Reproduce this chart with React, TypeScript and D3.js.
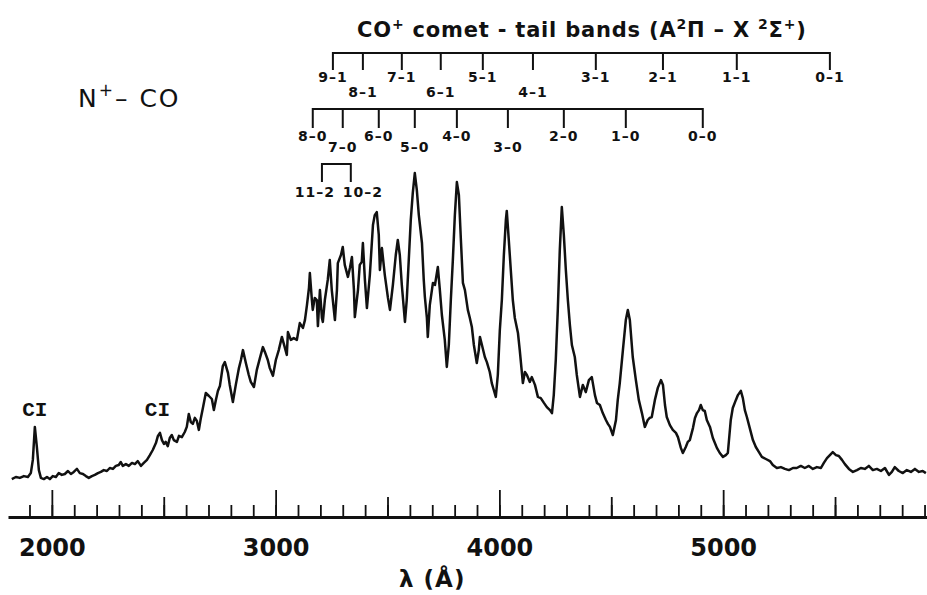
import React, { useEffect, useRef } from "react";
import * as d3 from "d3";

// N+ - CO emission spectrum: [wavelength (Å), relative intensity]
const spectrum: [number, number][] = [
  [1821,0.3],[1839,1.0],[1857,0.7],[1875,1.3],[1893,1.0],[1906,2.3],[1915,6.7],[1924,17.7],[1933,11.0],[1942,3.3],[1951,0.7],[1964,0.3],[1978,1.0],[1991,0.3],
  [2004,1.3],[2018,1.0],[2031,2.3],[2045,1.7],[2058,2.0],[2072,3.0],[2085,2.0],[2098,2.7],[2112,3.7],[2125,2.3],[2139,2.0],[2152,1.3],[2165,0.7],[2179,1.3],
  [2192,1.7],[2206,2.3],[2219,2.7],[2232,3.3],[2246,3.0],[2259,4.0],[2273,3.7],[2286,4.7],[2299,5.0],[2308,6.0],[2317,4.7],[2331,5.3],[2344,4.7],[2358,5.7],
  [2371,5.3],[2384,6.3],[2398,4.7],[2411,5.7],[2425,6.7],[2438,8.3],[2451,10.0],[2465,12.3],[2474,14.7],[2483,15.7],[2492,13.3],[2501,12.0],[2509,12.7],
  [2518,11.3],[2527,14.0],[2536,15.0],[2545,13.3],[2559,12.7],[2568,14.7],[2581,14.3],[2594,16.0],[2603,17.7],[2612,22.0],[2621,19.3],[2630,18.7],[2639,20.7],
  [2648,19.7],[2657,16.7],[2666,20.7],[2675,24.0],[2688,29.0],[2702,28.0],[2715,27.0],[2724,23.3],[2733,26.7],[2742,29.7],[2751,31.3],[2764,38.0],[2773,39.3],
  [2787,35.7],[2795,31.7],[2809,26.0],[2822,31.7],[2836,37.3],[2845,40.0],[2854,43.3],[2867,39.0],[2880,35.0],[2889,32.7],[2903,31.0],[2916,36.7],[2930,40.7],
  [2943,44.3],[2952,42.7],[2965,40.0],[2974,37.3],[2988,34.7],[3001,40.0],[3014,43.3],[3028,47.7],[3037,45.3],[3050,41.7],[3055,49.3],[3068,46.7],[3081,47.3],
  [3095,46.7],[3108,52.3],[3122,50.7],[3131,53.3],[3140,58.3],[3149,64.0],[3153,69.0],[3162,60.0],[3166,56.7],[3175,60.7],[3184,60.0],[3189,51.3],[3198,63.3],
  [3207,54.0],[3211,52.7],[3220,60.0],[3233,66.7],[3242,73.3],[3251,63.3],[3265,53.3],[3274,63.3],[3278,72.3],[3292,75.0],[3300,77.7],[3309,71.7],[3323,67.7],
  [3332,70.7],[3341,74.3],[3350,63.3],[3354,54.3],[3368,63.3],[3376,71.7],[3385,72.7],[3390,79.0],[3399,66.7],[3408,57.3],[3421,68.3],[3435,85.0],[3443,88.3],
  [3452,89.3],[3461,81.7],[3466,70.0],[3475,77.3],[3488,68.3],[3502,60.7],[3511,56.7],[3524,65.0],[3537,75.0],[3546,80.0],[3555,75.0],[3564,65.0],[3578,52.7],
  [3586,60.0],[3595,73.3],[3604,86.7],[3613,95.7],[3622,102.3],[3631,96.7],[3640,88.3],[3654,79.0],[3662,66.7],[3667,61.0],[3676,54.0],[3680,47.7],[3689,58.3],
  [3703,65.7],[3712,65.0],[3725,71.0],[3734,63.3],[3743,55.0],[3756,46.7],[3765,37.7],[3774,45.0],[3783,60.0],[3792,73.3],[3801,88.3],[3810,99.3],[3819,95.0],
  [3828,80.0],[3837,65.7],[3846,63.3],[3859,56.7],[3868,54.0],[3877,51.0],[3886,45.0],[3899,39.0],[3908,43.3],[3913,47.7],[3922,45.0],[3935,41.0],[3944,39.3],
  [3957,36.0],[3966,32.3],[3975,30.0],[3984,27.7],[3993,35.0],[4002,50.0],[4011,60.0],[4020,75.0],[4029,86.7],[4033,89.7],[4042,80.0],[4051,70.0],[4060,60.0],
  [4069,54.0],[4083,49.0],[4091,43.3],[4105,32.3],[4114,36.0],[4123,35.0],[4136,32.7],[4145,34.3],[4159,31.7],[4172,27.7],[4185,27.3],[4199,25.7],[4212,24.3],
  [4226,23.3],[4235,22.3],[4243,28.3],[4252,40.0],[4261,56.7],[4270,76.7],[4279,91.0],[4288,81.7],[4297,70.0],[4306,60.0],[4315,51.7],[4324,45.0],[4337,41.0],
  [4346,35.0],[4360,27.7],[4373,31.7],[4386,29.3],[4400,33.3],[4413,34.3],[4427,28.3],[4436,25.7],[4449,25.0],[4462,22.3],[4476,20.0],[4485,18.7],[4494,17.7],
  [4507,15.0],[4521,20.0],[4529,26.7],[4538,32.3],[4552,43.3],[4565,53.3],[4574,56.7],[4583,53.3],[4596,41.0],[4610,33.3],[4623,26.7],[4637,22.3],[4650,17.7],
  [4663,20.0],[4672,20.7],[4681,21.0],[4695,26.7],[4708,30.7],[4722,33.3],[4731,31.7],[4740,25.0],[4748,21.0],[4762,18.3],[4775,16.7],[4789,15.7],[4798,14.3],
  [4811,10.7],[4820,9.0],[4833,11.0],[4842,12.7],[4851,13.3],[4865,17.3],[4874,20.7],[4883,22.3],[4892,23.3],[4900,25.0],[4909,23.3],[4918,23.0],[4927,20.0],
  [4941,17.7],[4954,14.0],[4972,10.7],[4985,9.0],[4999,7.7],[5012,8.3],[5021,9.0],[5034,20.0],[5043,24.0],[5057,26.7],[5066,28.3],[5079,29.7],[5088,27.3],
  [5097,23.3],[5106,21.0],[5119,17.3],[5133,13.3],[5146,11.0],[5160,9.3],[5173,7.7],[5191,7.0],[5209,6.3],[5222,5.0],[5240,4.0],[5258,4.3],[5276,3.7],
  [5294,3.3],[5312,4.0],[5329,4.0],[5347,4.7],[5365,4.0],[5383,4.7],[5401,3.7],[5419,4.3],[5437,4.0],[5450,5.7],[5464,7.3],[5477,8.3],[5490,9.3],[5504,8.3],
  [5517,8.0],[5531,6.7],[5544,5.3],[5562,3.7],[5580,2.7],[5598,3.3],[5615,4.0],[5633,3.7],[5651,4.7],[5669,3.3],[5687,3.7],[5705,3.0],[5723,4.0],[5741,1.7],
  [5754,2.7],[5767,4.3],[5785,3.0],[5803,2.3],[5821,3.3],[5839,2.7],[5857,3.7],[5875,2.7],[5892,3.0],[5906,2.3],
];

// CO+ comet-tail band heads (Å)
const bandNamesV1 = ["9-1", "8-1", "7-1", "6-1", "5-1", "4-1", "3-1", "2-1", "1-1", "0-1"];
const bandWavesV1 = [3256, 3390, 3564, 3738, 3926, 4150, 4431, 4731, 5061, 5477];
const bandNamesV0 = ["8-0", "7-0", "6-0", "5-0", "4-0", "3-0", "2-0", "1-0", "0-0"];
const bandWavesV0 = [3166, 3300, 3461, 3622, 3810, 4038, 4288, 4565, 4909];
const bandNamesV2 = ["11-2", "10-2"];
const bandWavesV2 = [3207, 3336];
// labels set one row lower so they don't collide
const loweredLabels = ["8-1", "6-1", "4-1", "7-0", "5-0", "3-0"];

const ciWaves = [1924, 2472];
const majorTicks = [2000, 3000, 4000, 5000];
const midTicks = [2500, 3500, 4500, 5500];
const minorTicks = d3.range(1900, 5901, 100);

const FONT = "'DejaVu Sans', sans-serif";

export default function App() {
  const svgRef = useRef(null);

  useEffect(() => {
    const w = 927;
    const h = 595;
    const svg = d3.select(svgRef.current).attr("width", w).attr("height", h);
    svg.selectAll("*").remove();

    const x = d3.scaleLinear().domain([1804, 5911]).range([8, 927]);
    const y = d3.scaleLinear().domain([0, 100]).range([480, 180]);

    // spectrum trace
    const line = d3.line<[number, number]>()
      .x(d => x(d[0]))
      .y(d => y(d[1]));
    svg.append("path")
      .datum(spectrum)
      .attr("d", line)
      .attr("fill", "none")
      .attr("stroke", "#111")
      .attr("stroke-width", 2.5)
      .attr("stroke-linejoin", "round");

    // wavelength axis, ticks pointing up
    const axisY = 517;
    const minorAxis = d3.axisBottom(x).tickValues(minorTicks).tickSize(-12).tickSizeOuter(0).tickFormat(() => "");
    const midAxis = d3.axisBottom(x).tickValues(midTicks).tickSize(-20).tickSizeOuter(0).tickFormat(() => "");
    const majorAxis = d3.axisBottom(x).tickValues(majorTicks).tickSize(-27).tickSizeOuter(0)
      .tickPadding(22).tickFormat(d3.format("d"));

    const gMinor = svg.append("g").attr("transform", `translate(0,${axisY})`).call(minorAxis);
    gMinor.select(".domain").attr("stroke-width", 3).attr("stroke", "#111");
    const gMid = svg.append("g").attr("transform", `translate(0,${axisY})`).call(midAxis);
    gMid.select(".domain").remove();
    const gMajor = svg.append("g").attr("transform", `translate(0,${axisY})`).call(majorAxis);
    gMajor.select(".domain").remove();
    svg.selectAll(".tick line").attr("stroke", "#111").attr("stroke-width", 1.8);
    gMajor.selectAll(".tick text")
      .attr("font-family", FONT)
      .attr("font-size", 24)
      .attr("font-weight", "bold")
      .attr("fill", "#111");

    svg.append("text")
      .attr("x", x(3700))
      .attr("y", 587)
      .attr("text-anchor", "middle")
      .attr("font-family", FONT)
      .attr("font-size", 23)
      .attr("font-weight", "bold")
      .attr("letter-spacing", 1)
      .attr("fill", "#111")
      .text("λ (Å)");

    // CI lines
    svg.selectAll(".ci")
      .data(ciWaves)
      .join("text")
      .attr("x", d => x(d))
      .attr("y", 416)
      .attr("text-anchor", "middle")
      .attr("font-family", "'Liberation Mono', monospace")
      .attr("font-size", 21)
      .attr("font-weight", "bold")
      .attr("fill", "#111")
      .text("CI");

    // band brackets
    const bracket = (names, waves, lineY, tickLen, labelY, labelDrop, anchors?, shifts?) => {
      const g = svg.append("g");
      const xs = waves.map(x);
      let d = `M${xs[0]},${lineY + tickLen}V${lineY}H${xs[xs.length - 1]}V${lineY + tickLen}`;
      xs.slice(1, -1).forEach(v => { d += `M${v},${lineY}V${lineY + tickLen}`; });
      g.append("path").attr("d", d).attr("fill", "none").attr("stroke", "#111").attr("stroke-width", 2);
      g.selectAll("text")
        .data(names)
        .join("text")
        .attr("x", (n, i) => xs[i] + (shifts ? shifts[i] : 0))
        .attr("y", n => labelY + (loweredLabels.includes(n) ? labelDrop : 0))
        .attr("text-anchor", (n, i) => (anchors ? anchors[i] : "middle"))
        .attr("font-family", FONT)
        .attr("font-size", 14)
        .attr("font-weight", "bold")
        .attr("letter-spacing", 1)
        .attr("fill", "#111")
        .text(n => n.replace("-", "–"));
    };
    bracket(bandNamesV1, bandWavesV1, 53, 17, 82, 15);
    bracket(bandNamesV0, bandWavesV0, 109, 19, 141, 11);
    bracket(bandNamesV2, bandWavesV2, 164, 18, 197, 0, ["end", "start"], [13, -8]);

    // title
    const title = svg.append("text")
      .attr("x", 357)
      .attr("y", 37)
      .attr("font-family", FONT)
      .attr("font-size", 21)
      .attr("font-weight", "bold")
      .attr("letter-spacing", 0.8)
      .attr("fill", "#111");
    const sup = (t, s) => t.append("tspan").attr("dy", -8).attr("font-size", 14).text(s);
    const back = (t, s) => t.append("tspan").attr("dy", 8).text(s);
    title.append("tspan").text("CO");
    sup(title, "+");
    back(title, "  comet - tail  bands  (A");
    sup(title, "2");
    back(title, "Π – X ");
    sup(title, "2");
    back(title, "Σ");
    sup(title, "+");
    back(title, ")");

    const ion = svg.append("text")
      .attr("x", 78)
      .attr("y", 107)
      .attr("font-family", FONT)
      .attr("font-size", 25)
      .attr("letter-spacing", 2)
      .attr("fill", "#111");
    ion.append("tspan").text("N");
    ion.append("tspan").attr("dy", -11).attr("font-size", 17).text("+");
    ion.append("tspan").attr("dy", 11).text("– CO");
  }, []);

  return (
    <div style={{ position: "absolute", left: 0, top: 0, background: "#fff" }}>
      <svg ref={svgRef}></svg>
    </div>
  );
}
